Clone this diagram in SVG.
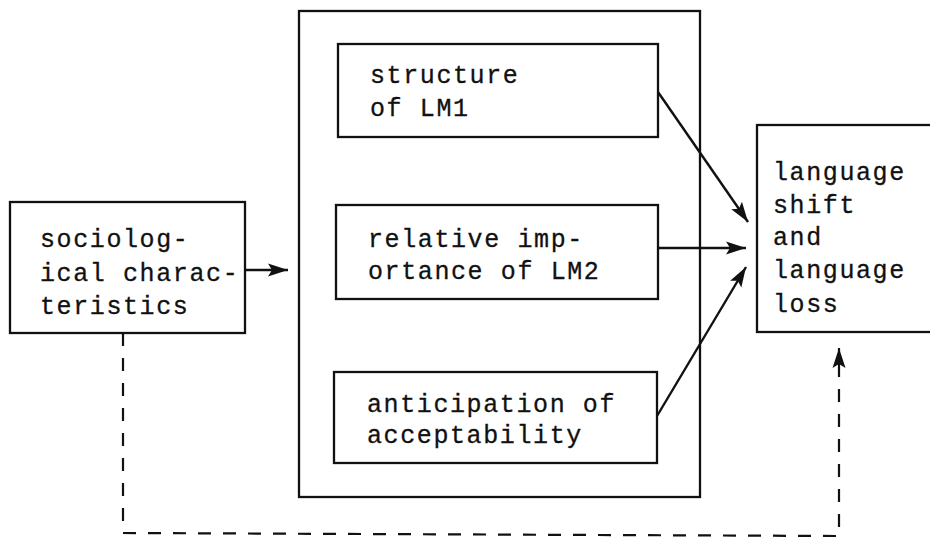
<svg xmlns="http://www.w3.org/2000/svg" width="930" height="542" viewBox="0 0 930 542">
<style>
.box{fill:none;stroke:#111;stroke-width:2.3}
.t{font-family:"Liberation Mono","DejaVu Sans Mono",monospace;font-size:25px;letter-spacing:1.6px;fill:#111;stroke:#111;stroke-width:0.3}
.c{fill:none;stroke:#111;stroke-width:2.4}
.d{fill:none;stroke:#111;stroke-width:2.2;stroke-dasharray:13 12}
</style>
<defs>
<marker id="ah" markerUnits="userSpaceOnUse" markerWidth="22" markerHeight="16" viewBox="0 0 22 16" refX="20" refY="8" orient="auto">
<path d="M0,1.5 L20,8 L0,14.5 L4,8 Z" fill="#111"/>
</marker>
</defs>
<rect width="930" height="542" fill="#fff"/>
<g id="socio">
<rect class="box" x="10" y="202" width="235" height="131"/>
<text class="t" x="40" y="247">sociolog-</text>
<text class="t" x="40" y="281">ical charac-</text>
<text class="t" x="40" y="314">teristics</text>
</g>
<g id="middle">
<rect class="box" x="299" y="11" width="401" height="486"/>
</g>
<g id="structure">
<rect class="box" x="338" y="44" width="320" height="93"/>
<text class="t" x="370" y="83">structure</text>
<text class="t" x="370" y="116">of LM1</text>
</g>
<g id="relative">
<rect class="box" x="336" y="205" width="322" height="94"/>
<text class="t" x="368" y="247">relative imp-</text>
<text class="t" x="368" y="279">ortance of LM2</text>
</g>
<g id="anticipation">
<rect class="box" x="334" y="372" width="323" height="91"/>
<text class="t" x="367" y="412">anticipation of</text>
<text class="t" x="367" y="443">acceptability</text>
</g>
<g id="shift">
<rect class="box" x="757" y="125" width="180" height="207"/>
<text class="t" x="773" y="180">language</text>
<text class="t" x="773" y="213">shift</text>
<text class="t" x="773" y="245">and</text>
<text class="t" x="773" y="278">language</text>
<text class="t" x="773" y="312">loss</text>
</g>
<g id="connectors">
<line class="c" x1="245" y1="270" x2="288" y2="270" marker-end="url(#ah)"/>
<line class="c" x1="658" y1="92" x2="748" y2="222" marker-end="url(#ah)"/>
<line class="c" x1="658" y1="248" x2="746" y2="248" marker-end="url(#ah)"/>
<line class="c" x1="657" y1="416" x2="746" y2="267" marker-end="url(#ah)"/>
<polyline class="d" points="123,333 123,533 839,536 839,348" marker-end="url(#ah)"/>
</g>
</svg>
